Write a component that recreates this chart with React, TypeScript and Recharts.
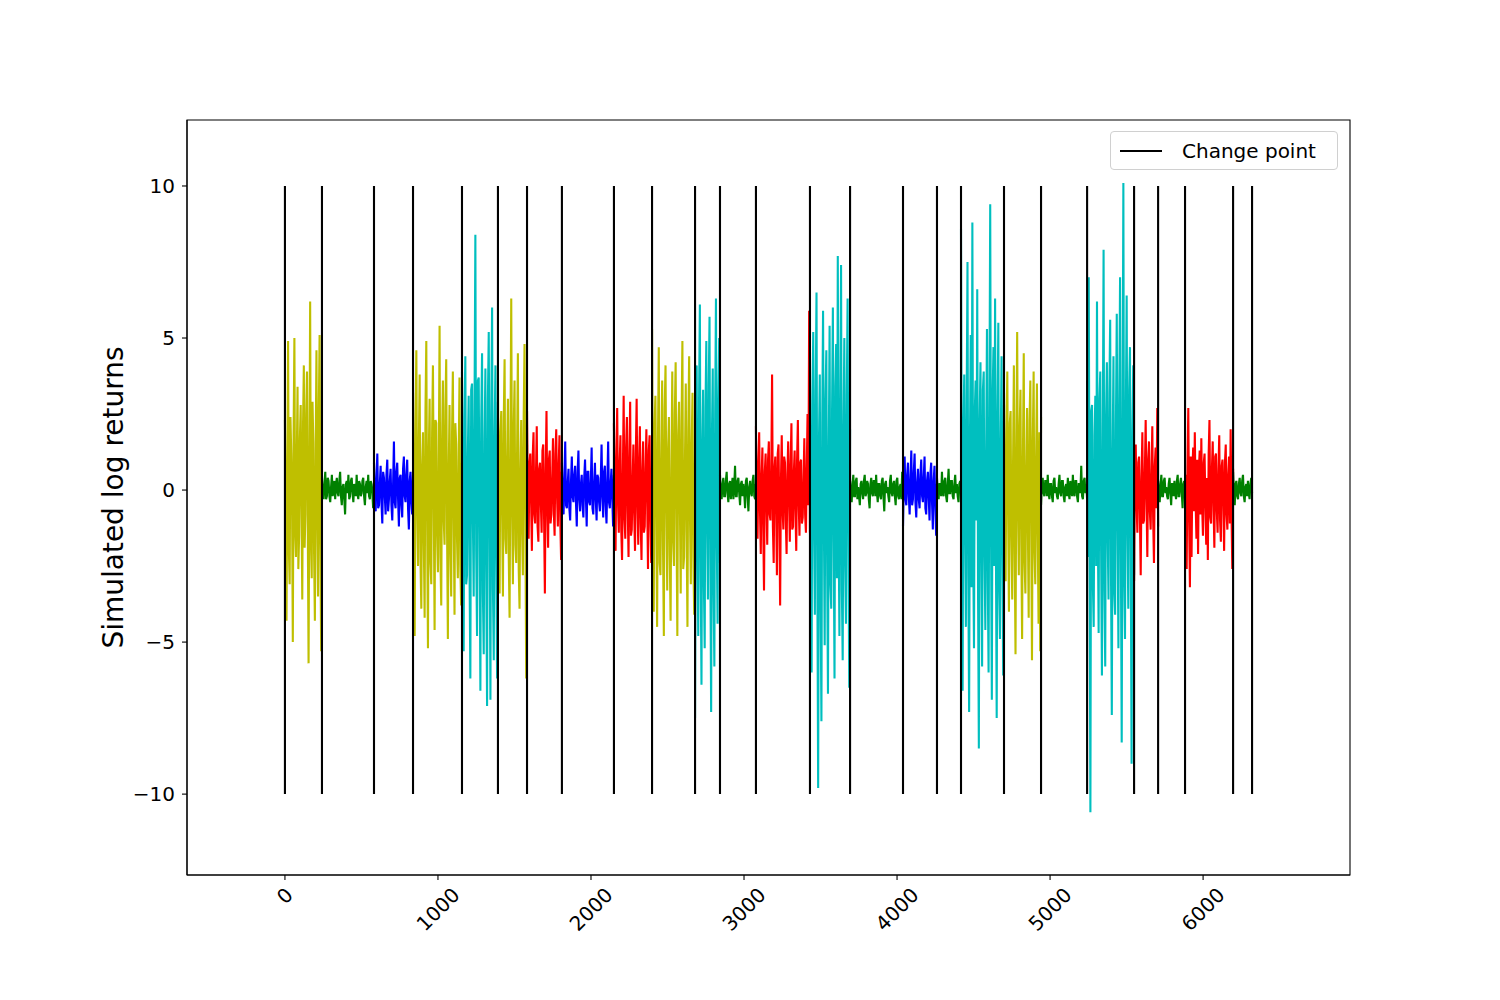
import { LineChart, Line, XAxis, YAxis, ReferenceArea } from "recharts";

const FONT = "'DejaVu Sans', sans-serif";

// detected change points (time index) and the regime of each segment between them
const changePoints = [0, 242, 582, 837, 1157, 1392, 1582, 1810, 2150, 2399, 2680, 2843, 3078, 3431, 3693, 4039, 4261, 4418, 4699, 4941, 5242, 5549, 5706, 5882, 6196, 6320];
const regimes = ["y", "g", "b", "y", "c", "y", "r", "b", "r", "y", "c", "g", "r", "c", "g", "b", "g", "c", "y", "g", "c", "r", "g", "r", "g"];

// simulated log returns, read segment by segment
const seg01 = [2.3, -1.1, -4.3, 0.6, 4.9, -2.0, -3.1, 2.4, 1.2, -0.3, -5.0, 1.8, 5.0, -1.4, -2.2, 0.9, 3.4, -2.6, -1.5, 1.7, 2.8, -0.5, -3.6, 2.2, 4.1, -1.9, -0.8, 2.5, 3.9, -1.2, -5.7, 0.4, 6.2, -1.6, -2.9, 2.9, 1.6, -2.1, -4.3, 1.3, 4.6, -0.7, -3.5, 2.6, 5.1, -1.8, -5.3, 1.0];
const seg02 = [0.4, -0.1, -0.3, 0.2, 0.6, -0.3, -0.2, 0.4, 0.3, -0.2, -0.4, 0.1, 0.5, -0.2, 0.1, 0.3, -0.3, 0.2, 0.4, -0.1, -0.2, 0.3, 0.6, -0.2, -0.5, 0.1, 0.2, -0.3, -0.8, 0.2, 0.3, -0.1, 0.5, -0.3, -0.2, 0.3, 0.4, -0.1, -0.4, 0.2, 0.1, -0.2, 0.5, -0.1, -0.3, 0.3, 0.2, -0.2, -0.1, 0.3, 0.4, -0.2, -0.5, 0.1, 0.3, -0.1, 0.5, -0.2, -0.3, 0.3, 0.2, -0.1, -0.6, 0.2];
const seg03 = [0.9, -0.3, -0.7, 0.4, 1.2, -0.6, -0.5, 0.2, 0.8, -0.4, -1.1, 0.6, 0.4, -0.2, -0.8, 0.5, 1.0, -0.7, -0.3, 0.3, 0.7, -0.5, -1.0, 0.2, 1.6, -0.4, -0.6, 0.6, 0.9, -0.3, -1.2, 0.4, 0.5, -0.5, -0.9, 0.7, 1.1, -0.2, -0.4, 0.5, 1.0, -0.6, -1.3, 0.3, 0.6, -0.4, -0.8, 0.5];
const seg04 = [3.2, -1.4, -4.8, 2.1, 4.6, -0.6, -2.5, 1.5, 3.8, -2.3, -3.9, 0.8, 1.9, -1.7, -4.2, 2.6, 4.9, -0.9, -5.2, 1.2, 3.0, -2.4, -3.1, 1.9, 4.1, -0.4, -4.6, 2.3, 2.2, -1.5, -2.7, 0.7, 5.4, -2.2, -3.8, 1.6, 3.6, -1.0, -1.8, 2.7, 4.3, -1.3, -4.9, 0.5, 2.8, -2.0, -3.5, 1.8, 3.9, -0.8, -4.1, 2.2, 1.5, -1.6, -2.9, 1.1, 3.7, -2.5, -3.8, 0.9];
const seg05 = [3.9, -1.8, -5.3, 2.4, 4.4, -3.1, -2.8, 1.2, 3.1, -2.5, -6.2, 3.3, 3.5, -0.9, -3.5, 2.8, 8.4, -2.0, -4.8, 3.6, 3.7, -1.4, -6.6, 2.2, 4.5, -3.4, -5.4, 1.6, 4.0, -2.7, -7.1, 3.0, 5.2, -1.1, -6.9, 2.5, 6.0, -3.2, -5.6, 1.9, 4.1, -2.3, -6.2, 2.9];
const seg06 = [4.1, -1.2, -3.4, 1.9, 2.6, -0.7, -3.5, 2.3, 4.3, -1.6, -2.1, 0.9, 3.0, -2.2, -4.2, 1.4, 6.3, -0.5, -3.1, 2.0, 3.6, -1.8, -2.4, 1.1, 4.5, -2.6, -3.9, 0.6, 2.3, -1.3, -2.8, 2.4, 4.8, -0.8, -6.2, 1.5];
const seg07 = [2.6, -0.6, -1.6, 0.9, 1.2, -0.3, -2.0, 1.1, 1.9, -0.8, -1.1, 0.5, 2.1, -1.2, -1.7, 0.7, 0.9, -0.4, -1.4, 1.3, 1.5, -0.9, -3.4, 0.6, 2.6, -0.5, -1.9, 1.0, 1.3, -1.1, -0.8, 0.4, 1.7, -0.7, -1.5, 1.2, 2.0, -0.2, -1.2, 0.8, 1.8, -1.0, -2.3, 0.6];
const seg08 = [0.9, -0.3, -0.8, 0.4, 1.6, -0.5, -0.6, 0.2, 0.7, -0.6, -1.0, 0.3, 1.1, -0.2, -0.4, 0.5, 0.8, -0.4, -1.2, 0.6, 1.3, -0.3, -0.7, 0.2, 0.5, -0.5, -0.9, 0.4, 1.0, -0.2, -1.2, 0.6, 0.6, -0.4, -0.5, 0.3, 1.4, -0.6, -0.8, 0.2, 0.9, -0.3, -1.0, 0.5, 0.4, -0.4, -0.7, 0.3, 1.5, -0.2, -0.9, 0.6, 0.8, -0.5, -1.1, 0.3, 1.6, -0.4, -0.6, 0.2, 0.7, -0.3, -1.2, 0.5];
const seg09 = [2.2, -0.7, -2.0, 1.1, 2.7, -0.4, -1.4, 0.8, 1.8, -1.3, -2.3, 0.5, 3.1, -0.9, -1.6, 1.4, 2.4, -0.6, -2.2, 1.0, 2.9, -1.5, -1.3, 0.3, 1.5, -0.8, -2.0, 1.2, 3.0, -0.5, -1.8, 0.9, 2.1, -1.1, -2.3, 0.6, 1.6, -1.4, -1.2, 0.7, 2.0, -0.3, -2.6, 1.3, 1.8, -1.0, -2.4, 0.4];
const seg10 = [5.3, -1.5, -4.0, 2.2, 3.1, -0.8, -4.5, 1.6, 4.7, -2.4, -2.8, 1.0, 3.6, -1.9, -4.8, 2.7, 4.1, -0.6, -3.3, 1.3, 2.4, -2.1, -4.3, 0.7, 3.9, -1.7, -2.5, 2.5, 4.2, -1.1, -4.8, 1.8, 2.9, -0.4, -3.4, 2.3, 4.9, -2.6, -2.2, 0.9, 3.5, -1.4, -4.5, 2.0, 4.4, -0.9, -3.1, 1.5, 3.2, -2.2, -4.1, 1.2];
const seg11 = [-7.5, 2.3, 4.1, -1.9, -4.8, 3.0, 6.1, -2.6, -6.4, 1.4, 3.3, -3.1, -5.2, 2.7, 4.9, -1.2, -3.6, 3.4, 5.7, -2.2, -7.3, 1.8, 4.0, -3.3, -5.8, 2.5, 6.3, -1.6, -4.4, 2.9, 5.0, -2.4];
const seg12 = [0.5, -0.1, -0.3, 0.2, 0.4, -0.2, -0.2, 0.3, 0.6, -0.1, -0.4, 0.2, 0.3, -0.3, 0.1, 0.4, -0.3, 0.1, 0.8, -0.2, -0.2, 0.3, 0.4, -0.1, -0.5, 0.2, 0.3, -0.2, 0.2, -0.1, -0.6, 0.3, 0.4, -0.2, -0.7, 0.1, 0.3, -0.1, -0.2, 0.3, 0.5, -0.2, -0.3, 0.2];
const seg13 = [2.1, -0.5, -1.6, 0.9, 1.9, -0.7, -2.1, 0.4, 1.4, -1.1, -3.3, 0.6, 1.2, -0.3, -1.8, 1.0, 1.6, -0.8, -1.0, 0.5, 3.8, -1.2, -2.4, 0.7, 1.1, -0.4, -2.8, 1.2, 1.5, -0.9, -3.8, 0.3, 1.8, -0.6, -1.3, 1.1, 0.9, -1.0, -2.1, 0.5, 1.6, -0.2, -1.7, 0.8, 2.2, -1.3, -1.2, 0.6, 1.3, -0.7, -2.0, 1.0, 2.3, -0.4, -1.5, 0.9, 1.0, -1.1, -0.9, 0.3, 1.7, -0.8, -1.4, 0.7, 2.5, -0.5, 5.9, -1.4];
const seg14 = [4.3, -2.1, -6.0, 2.8, 5.2, -1.4, -4.1, 3.2, 6.5, -2.7, -9.8, 1.6, 3.8, -3.5, -7.6, 2.2, 5.9, -1.0, -5.1, 3.0, 4.6, -2.4, -6.7, 1.3, 5.4, -3.1, -3.9, 2.6, 6.0, -1.7, -6.2, 3.4, 4.8, -2.9, 7.7, -1.2, -4.8, 2.4, 7.4, -3.3, -5.6, 1.9, 5.0, -2.5, -4.4, 3.1, 6.3, -1.5, -6.5, 2.0];
const seg15 = [0.3, -0.1, -0.4, 0.2, 0.5, -0.2, -0.2, 0.3, 0.4, -0.3, 0.1, -0.2, -0.5, 0.2, 0.3, -0.1, -0.3, 0.3, 0.5, -0.2, -0.1, 0.3, 0.2, -0.3, -0.6, 0.2, 0.4, -0.1, -0.2, 0.3, 0.3, -0.2, 0.5, -0.1, -0.4, 0.2, 0.2, -0.2, -0.3, 0.3, 0.4, -0.2, -0.7, 0.2, 0.3, -0.1, 0.1, -0.2, -0.4, 0.3, 0.5, -0.1, -0.2, 0.2, 0.3, -0.2, -0.5, 0.3, 0.4, -0.2, -0.3, 0.1, 0.2, -0.3, 0.6, -0.1];
const seg16 = [-1.2, 0.4, 1.1, -0.3, -0.5, 0.5, 0.9, -0.2, -0.8, 0.3, 1.3, -0.5, -0.3, 0.6, 1.2, -0.4, -0.9, 0.2, 0.7, -0.3, -0.6, 0.5, 1.0, -0.2, -0.4, 0.4, 1.1, -0.6, -0.8, 0.3, 0.6, -0.2, -1.0, 0.5, 0.9, -0.4, -1.3, 0.3, 0.8, -0.5, -1.5, 0.2];
const seg17 = [0.4, -0.1, -0.3, 0.2, 0.2, -0.2, 0.6, -0.1, -0.2, 0.3, 0.4, -0.2, -0.4, 0.2, 0.7, -0.1, -0.1, 0.3, 0.3, -0.2, -0.3, 0.2, 0.5, -0.1, 0.2, -0.2, -0.4, 0.2, 0.3, -0.1];
const seg18 = [8.6, -2.4, -6.6, 2.1, 3.8, -1.3, -4.5, 3.0, 7.5, -2.8, -7.3, 1.5, 5.1, -3.2, 8.8, -1.9, -5.2, 2.6, 3.6, -1.0, 6.6, -3.4, -8.5, 2.3, 4.2, -1.7, -5.8, 3.3, 3.9, -2.2, -4.6, 1.2, 5.3, -3.0, -6.0, 2.7, 9.4, -1.4, -6.9, 3.1, 4.7, -2.5, 6.3, -1.8, -7.5, 2.4, 5.5, -3.3, -4.9, 1.6, 4.4, -2.0, -6.1, 2.8];
const seg19 = [3.2, -1.3, -3.0, 1.8, 3.9, -0.7, -4.0, 2.2, 2.6, -1.6, -3.6, 0.9, 4.1, -2.1, -5.4, 1.4, 5.2, -0.5, -2.8, 2.0, 3.3, -1.8, -4.9, 1.1, 4.5, -2.4, -3.4, 0.6, 2.7, -1.2, -4.2, 2.3, 3.6, -0.8, -5.6, 1.6, 3.9, -2.0, -3.1, 1.0, 3.5, -1.5, -4.4, 1.9, -5.3, 2.4];
const seg20 = [-0.5, 0.2, 0.4, -0.1, -0.2, 0.3, 0.3, -0.2, 0.5, -0.1, -0.3, 0.2, 0.2, -0.2, -0.4, 0.3, 0.4, -0.1, 0.1, -0.2, -0.3, 0.2, 0.5, -0.1, -0.2, 0.3, 0.3, -0.2, -0.4, 0.1, 0.2, -0.2, 0.4, -0.1, -0.3, 0.3, 0.1, -0.2, 0.5, -0.1, -0.2, 0.3, 0.3, -0.2, -0.4, 0.2, 0.2, -0.1, 0.8, -0.2, -0.3, 0.3, 0.4, -0.1, 0.2, -0.3];
const seg21 = [3.6, -2.2, 7.0, -1.5, -10.6, 2.6, 2.8, -3.1, -4.5, 1.8, 3.1, -2.5, 6.2, -1.2, -4.7, 3.0, 3.9, -2.0, -6.1, 1.4, 7.9, -3.3, -5.8, 2.4, 4.2, -1.6, -3.6, 3.2, 5.6, -2.7, -7.4, 1.1, 4.4, -3.4, -4.1, 2.2, 5.8, -1.3, -5.2, 2.9, 7.0, -2.1, -8.3, 1.7, 10.1, -3.0, -4.9, 2.5, 6.4, -1.4, -3.9, 3.3, 4.7, -2.3, -9.0, 1.9, 4.1, -2.8];
const seg22 = [-3.0, 0.7, 1.5, -0.5, -1.4, 0.9, 1.1, -0.8, -2.8, 0.4, 1.9, -1.1, -1.0, 0.6, 2.3, -0.3, -2.2, 1.0, 1.6, -0.7, -1.3, 0.5, 2.1, -0.9, -2.4, 0.8, 1.4, -0.6, 2.7, -1.2];
const seg23 = [0.3, -0.1, -0.4, 0.2, 0.5, -0.2, -0.2, 0.3, 0.4, -0.1, 0.1, -0.2, -0.3, 0.2, 0.4, -0.1, -0.5, 0.2, 0.2, -0.2, 0.3, -0.1, -0.3, 0.3, 0.5, -0.2, -0.2, 0.2, 0.4, -0.1, -0.6, 0.2, 0.3, -0.2];
const seg24 = [-1.2, 0.5, -2.6, 0.8, 2.7, -0.9, -3.2, 1.1, -2.2, 0.6, 1.4, -0.7, 1.9, -0.4, -1.6, 1.0, -2.1, 0.7, 1.3, -0.8, 1.7, -0.5, -1.5, 0.9, 1.2, -0.6, -1.8, 0.4, -2.3, 1.2, 2.3, -0.9, -1.1, 0.7, 1.6, -0.5, -1.9, 1.1, 1.2, -0.7, -1.4, 0.6, 1.8, -1.0, -1.7, 0.8, 1.0, -0.4, -2.0, 0.9, 1.5, -0.8, -1.3, 0.5, 1.1, -1.1, 2.0, -0.6, -2.6, 0.7];
const seg25 = [0.6, -0.1, -0.5, 0.2, 0.3, -0.2, -0.3, 0.2, 0.4, -0.1, -0.2, 0.3, 0.5, -0.2, -0.4, 0.1, 0.2, -0.2, 0.3, -0.1, -0.3, 0.2, 0.4, -0.1];

const segmentValues = [seg01, seg02, seg03, seg04, seg05, seg06, seg07, seg08, seg09, seg10, seg11, seg12, seg13, seg14, seg15, seg16, seg17, seg18, seg19, seg20, seg21, seg22, seg23, seg24, seg25];

const xTicks = [0, 1000, 2000, 3000, 4000, 5000, 6000];
const yTicks = [-10, -5, 0, 5, 10];
const cpRange = [-10, 10];

const X_DOMAIN: [number, number] = [-640, 6960];
const Y_DOMAIN: [number, number] = [-12.66, 12.17];

const regimeColors: Record<string, string> = {
  y: "#bfbf00",
  g: "#008000",
  b: "#0000ff",
  r: "#ff0000",
  c: "#00bfbf",
};

const segments = segmentValues.map((values, i) => {
  const start = changePoints[i];
  const end = changePoints[i + 1];
  const step = (end - start) / (values.length - 1);
  return {
    regime: regimes[i],
    data: values.map((r, j) => ({ t: start + j * step, r })),
  };
});

// one series for all vertical change point lines, broken by nulls
const changePointData = changePoints.flatMap((t) => [
  { t, r: cpRange[0] },
  { t, r: cpRange[1] },
  { t, r: null },
]);

const minus = (v: number) => String(v).replace("-", "\u2212");

const XTick = ({ x, y, payload }: any) => {
  const label = String(payload.value);
  const half = ((label.length * 12.7 + 18) * 0.7071) / 2;
  const cy = y + 3 + half;
  return (
    <text
      x={x}
      y={cy}
      fill="#000"
      fontSize={20}
      fontFamily={FONT}
      textAnchor="middle"
      dominantBaseline="central"
      transform={`rotate(-45 ${x} ${cy})`}
    >
      {label}
    </text>
  );
};

export default function App() {
  return (
    <div style={{ position: "absolute", left: 0, top: 0, width: 1500, height: 1000, background: "#fff" }}>
      <LineChart width={1500} height={1000} margin={{ top: 120, right: 150, bottom: 65, left: 39 }}>
        <XAxis
          type="number"
          dataKey="t"
          domain={X_DOMAIN}
          ticks={xTicks}
          allowDataOverflow
          height={60}
          stroke="#000"
          strokeWidth={1.1}
          tickSize={5}
          tick={<XTick />}
        />
        <YAxis
          type="number"
          dataKey="r"
          domain={Y_DOMAIN}
          ticks={yTicks}
          allowDataOverflow
          width={148}
          stroke="#000"
          strokeWidth={1.1}
          tickSize={5}
          tickMargin={7}
          tickFormatter={minus}
          tick={{ fill: "#000", fontSize: 20, fontFamily: FONT }}
          label={{
            value: "Simulated log returns",
            angle: -90,
            position: "center",
            style: { fill: "#000", fontSize: 28, fontFamily: FONT, textAnchor: "middle" },
          }}
        />
        <ReferenceArea
          x1={X_DOMAIN[0]}
          x2={X_DOMAIN[1]}
          y1={Y_DOMAIN[0]}
          y2={Y_DOMAIN[1]}
          fill="none"
          stroke="#000"
          strokeWidth={1.1}
        />
        {segments.map((s, i) => (
          <Line
            key={i}
            data={s.data}
            dataKey="r"
            type="linear"
            stroke={regimeColors[s.regime]}
            strokeWidth={2.1}
            dot={false}
            activeDot={false}
            legendType="none"
            isAnimationActive={false}
          />
        ))}
        <Line
          data={changePointData}
          dataKey="r"
          name="Change point"
          type="linear"
          stroke="#000"
          strokeWidth={2.1}
          dot={false}
          activeDot={false}
          connectNulls={false}
          isAnimationActive={false}
        />
      </LineChart>
      <div
        style={{
          position: "absolute",
          left: 1110,
          top: 131,
          display: "flex",
          alignItems: "center",
          boxSizing: "border-box",
          width: 228,
          height: 39,
          paddingLeft: 9,
          border: "1px solid #d0d0d0",
          borderRadius: 4,
          background: "rgba(255,255,255,0.8)",
          fontFamily: FONT,
          fontSize: 20,
          color: "#000",
        }}
      >
        <svg width={42} height={4} style={{ display: "block" }}>
          <line x1={0} y1={2} x2={42} y2={2} stroke="#000" strokeWidth={2.1} />
        </svg>
        <span style={{ marginLeft: 20, lineHeight: "20px" }}>Change point</span>
      </div>
    </div>
  );
}
